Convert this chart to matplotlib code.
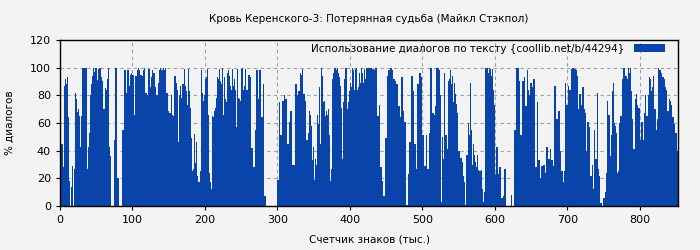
import numpy as np
import matplotlib
matplotlib.use('Agg')
import matplotlib.pyplot as plt

title = 'Кровь Керенского-3: Потерянная судьба (Майкл Стэкпол)'
legend_label = 'Использование диалогов по тексту {coollib.net/b/44294}'
x_label = 'Счетчик знаков (тыс.)'
y_label = '% диалогов'

# доля диалогов (%) на каждую тысячу знаков
dialog_pct = [
    23, 23, 45, 45, 28, 87, 87, 92, 88, 93,
    93, 64, 18, 18, 0, 14, 29, 29, 0, 27,
    27, 82, 77, 78, 68, 70, 65, 43, 43, 65,
    66, 100, 100, 100, 100, 100, 100, 27, 43, 43,
    53, 80, 80, 88, 94, 100, 100, 97, 96, 100,
    100, 91, 92, 99, 100, 100, 100, 93, 90, 91,
    70, 70, 85, 85, 84, 92, 100, 100, 43, 36,
    6, 0, 0, 0, 48, 48, 100, 100, 100, 20,
    20, 0, 0, 0, 0, 0,
    55, 55, 72, 98, 98, 82, 89, 98, 98, 87,
    95, 95, 96, 77, 95, 95, 66, 93, 94, 94,
    98, 100, 100, 98, 96, 95, 95, 94, 98, 98,
    100, 93, 82, 82, 80, 89, 99, 99, 86, 93,
    93, 98, 86, 96, 96, 86, 65, 80, 80, 89,
    98, 98, 100, 100, 98, 98, 100, 98, 98, 100,
    95, 82, 82, 69, 81, 67, 67, 80, 66, 66,
    65, 65, 94, 94, 89, 84, 84, 46, 80, 87,
    87, 78, 86, 88, 88, 99,
    87, 87, 83, 73, 73, 99, 83, 71, 71, 49,
    25, 25, 27, 52, 31, 31, 46, 22, 17, 17,
    17, 25, 25, 98, 82, 76, 76, 80, 92, 92,
    93, 99, 66, 66, 24, 17, 12, 12, 65, 64,
    64, 69, 71, 78, 78, 93, 92, 99, 99, 90,
    88, 88, 100, 66, 93, 93, 77, 75, 75, 96,
    98, 94, 94, 87, 84, 99, 99, 87, 92, 92,
    84, 57, 99, 99, 78, 77, 77, 76, 99, 100,
    100, 84, 87, 100, 99,
    84, 84, 72, 95, 95, 93, 60, 42, 42, 37,
    28, 28, 55, 65, 98, 98, 77, 78, 98, 98,
    87, 64, 64, 88, 12, 7, 7, 17, 0, 0,
    0, 0, 0, 0, 0, 0, 0, 0, 0, 0,
    0, 0, 0, 19, 19, 75, 73, 51, 51, 70,
    76, 76, 80, 78, 77, 77, 69, 45, 45, 61,
    47, 69, 69, 30, 17, 30, 30, 75, 88, 88,
    80, 88, 83, 83, 96, 95, 95, 99, 100, 81,
    81, 76, 61, 48, 48, 53,
    69, 69, 66, 58, 58, 33, 43, 19, 19, 34,
    30, 30, 66, 59, 86, 86, 45, 100, 94, 94,
    75, 76, 76, 65, 69, 66, 66, 70, 51, 51,
    18, 27, 92, 92, 96, 100, 100, 100, 98, 100,
    100, 96, 93, 87, 87, 71, 34, 75, 75, 92,
    100, 100, 100, 70, 75, 75, 83, 89, 89, 86,
    100, 98, 98, 84, 99, 100, 100, 84, 86, 86,
    96, 89, 100, 100, 96, 89, 89, 99, 92, 100,
    100, 100, 100, 94, 100,
    100, 100, 95, 99, 99, 92, 98, 100, 100, 88,
    65, 65, 73, 48, 28, 28, 17, 18, 7, 7,
    29, 49, 49, 77, 94, 98, 98, 96, 100, 100,
    98, 100, 92, 92, 96, 90, 88, 88, 80, 72,
    72, 64, 89, 93, 93, 86, 69, 61, 61, 46,
    1, 1, 0, 23, 46, 46, 93, 94, 94, 83,
    67, 45, 45, 18, 27, 88, 88, 99, 96, 96,
    93, 80, 51, 51, 49, 29, 29, 51, 53, 27,
    27, 53, 100, 100, 100, 96,
    67, 67, 66, 72, 72, 100, 50, 100, 100, 98,
    80, 80, 3, 50, 34, 34, 96, 95, 51, 51,
    41, 90, 90, 92, 98, 88, 88, 94, 75, 75,
    89, 81, 74, 74, 67, 100, 40, 40, 35, 35,
    35, 32, 22, 17, 17, 1, 53, 37, 37, 60,
    51, 51, 89, 55, 30, 30, 45, 37, 37, 32,
    28, 37, 37, 26, 34, 25, 25, 26, 12, 12,
    3, 10, 100, 100, 100, 100, 100, 96, 100, 99,
    99, 94, 99, 88, 84,
    73, 73, 23, 43, 43, 64, 23, 28, 28, 12,
    6, 6, 13, 7, 27, 27, 13, 0, 0, 0,
    0, 0, 0, 7, 8, 0, 0, 29, 55, 55,
    54, 100, 100, 100, 83, 90, 51, 51, 65, 90,
    90, 89, 93, 72, 72, 86, 98, 84, 84, 80,
    89, 89, 93, 86, 92, 92, 51, 28, 28, 35,
    75, 33, 33, 17, 20, 29, 29, 27, 30, 30,
    37, 24, 43, 43, 37, 34, 34, 41, 27, 33,
    33, 46, 29, 87, 87, 69,
    63, 63, 51, 69, 69, 40, 19, 25, 25, 17,
    25, 25, 89, 57, 73, 73, 87, 96, 84, 84,
    99, 100, 100, 100, 100, 99, 99, 98, 94, 94,
    70, 19, 81, 81, 73, 61, 86, 86, 70, 67,
    67, 40, 66, 61, 61, 57, 37, 22, 22, 30,
    12, 12, 55, 55, 34, 34, 82, 27, 27, 22,
    7, 2, 2, 0, 17, 6, 6, 10, 24, 24,
    76, 69, 66, 66, 36, 51, 51, 83, 89, 60,
    60, 58, 51, 53, 24,
    25, 25, 60, 65, 65, 100, 92, 100, 100, 100,
    94, 94, 100, 92, 100, 100, 96, 100, 83, 83,
    63, 41, 41, 67, 77, 81, 81, 73, 71, 71,
    80, 48, 61, 61, 69, 48, 67, 67, 80, 65,
    65, 86, 80, 93, 93, 92, 83, 86, 86, 94,
    70, 70, 75, 55, 63, 63, 100, 98, 98, 100,
    96, 93, 93, 87, 92, 86, 86, 84, 69, 69,
    78, 77, 76, 76, 73, 64, 64, 71, 59, 53,
    53, 58, 40,
]

bg = '#f3f3f3'
bar_color = '#0844aa'

fig = plt.figure(figsize=(7, 2.5), dpi=100, facecolor=bg)
ax = fig.add_axes([0.0857, 0.176, 0.8829, 0.664], facecolor=bg)

x = np.arange(len(dialog_pct))
ax.bar(x, dialog_pct, width=1.0, align='edge', color=bar_color,
       linewidth=0, label=legend_label)

ax.set_xlim(0, len(dialog_pct))
ax.set_ylim(0, 120)
ax.set_xticks(range(0, 900, 100))
ax.set_yticks(range(0, 121, 20))
ax.tick_params(labelsize=8, length=3)
ax.set_axisbelow(True)
ax.grid(True, color='#a0a0a0', linestyle=(0, (3, 3)), linewidth=0.8)

for s in ax.spines.values():
    s.set_color('black')
    s.set_linewidth(1)

ax.set_title(title, fontsize=7.5, pad=13)
ax.set_xlabel(x_label, fontsize=7.5, labelpad=7)
ax.set_ylabel(y_label, fontsize=7.5, labelpad=11)

leg = ax.legend(loc='upper right', bbox_to_anchor=(0.987, 1.01),
                fontsize=7.5, frameon=False, markerfirst=False,
                handlelength=3.0, handleheight=0.7,
                borderaxespad=0.1, handletextpad=0.9)

fig.savefig('out.png', dpi=100, facecolor=bg)
